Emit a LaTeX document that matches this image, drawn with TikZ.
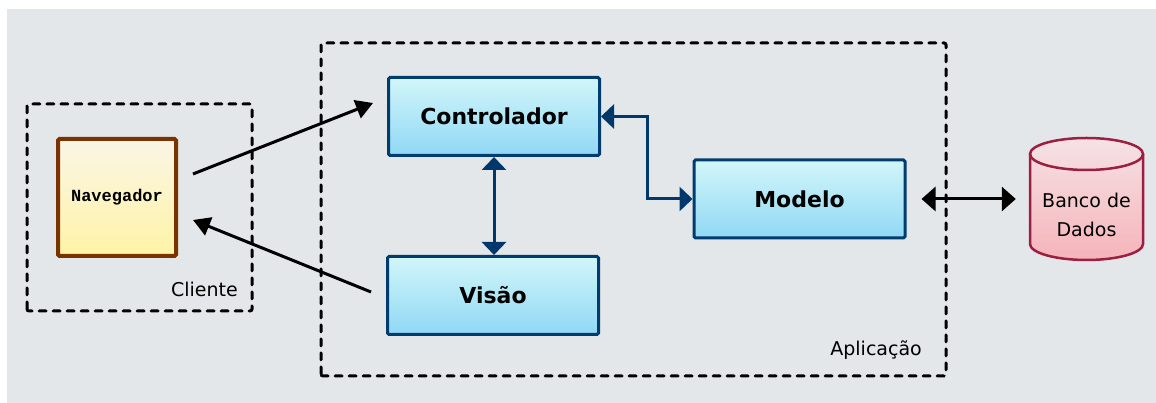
\documentclass[tikz,border=0pt]{standalone}
\usepackage{fontspec}
\setmainfont{DejaVu Sans}
\newfontfamily\monofnt{Liberation Mono}
\usetikzlibrary{arrows.meta,calc}
\definecolor{bg}{HTML}{E4E7EA}
\definecolor{boxblue}{HTML}{003C6E}
\definecolor{linkblue}{HTML}{00386B}
\definecolor{bluetop}{HTML}{D2F6F9}
\definecolor{bluebot}{HTML}{90D8F5}
\definecolor{navtop}{HTML}{FAF5E6}
\definecolor{navbot}{HTML}{FFF4A6}
\definecolor{navborder}{HTML}{7A3300}
\definecolor{dbtop}{HTML}{F5E2E5}
\definecolor{dbbot}{HTML}{F5B4BA}
\definecolor{dbborder}{HTML}{9C1F41}
\begin{document}
\begin{tikzpicture}[x=1pt,y=1pt,
  bluebox/.style={draw=boxblue, line width=3pt, rounded corners=1.5pt,
    top color=bluetop, bottom color=bluebot, minimum width=211pt,
    minimum height=78pt, inner sep=0pt,
    font=\fontsize{22}{26}\selectfont\bfseries},
  navbox/.style={draw=navborder, line width=4pt, rounded corners=1.5pt,
    top color=navtop, bottom color=navbot, minimum width=118pt,
    minimum height=117pt, inner sep=0pt,
    font=\monofnt\fontsize{17}{20}\selectfont\bfseries},
  groupbox/.style={draw=black, line width=3pt, dash pattern=on 7pt off 7pt,
    line cap=round, rounded corners=2pt},
  grouplabel/.style={font=\fontsize{19}{22}\selectfont, inner sep=0pt, anchor=east},
  blacklink/.style={draw=black, line width=3pt,
    -{Triangle[length=17pt,width=19pt]}},
  bluelink/.style={draw=linkblue, line width=3pt,
    {Triangle[length=13pt,width=24pt]}-{Triangle[length=13pt,width=24pt]}},
  dblink/.style={draw=black, line width=3pt,
    {Triangle[length=14pt,width=24pt]}-{Triangle[length=14pt,width=24pt]}}
]
\useasboundingbox (0,0) rectangle (1156,403);
\fill[bg] (7,0) rectangle (1156,394);

% group boxes
\draw[groupbox] (27,92) rectangle (252,299);
\draw[groupbox] (321,27) rectangle (946,360);
\node[grouplabel] (cliente) at (238,114) {Cliente};
\node[grouplabel] (aplicacao) at (922,53) {Aplicação};

% nodes
\node[navbox] (nav) at (117,205.5) {Navegador};
\node[bluebox] (ctrl) at (494,286.5) {Controlador};
\node[bluebox] (visao) at (493,107.5) {Visão};
\node[bluebox] (modelo) at (799.5,204) {Modelo};

% database cylinder
\path[top color=dbtop, bottom color=dbbot]
  (1030,249) -- (1030,159) arc[start angle=180, end angle=360, x radius=56.5pt, y radius=16pt]
  -- (1143,249) arc[start angle=0, end angle=180, x radius=56.5pt, y radius=16pt] -- cycle;
\draw[dbborder, line width=2.5pt]
  (1030,249) -- (1030,159) arc[start angle=180, end angle=360, x radius=56.5pt, y radius=16pt]
  -- (1143,249);
\draw[dbborder, line width=2.5pt] (1086.5,249) ellipse [x radius=56.5pt, y radius=16pt];
\node[minimum width=113pt, minimum height=122pt, inner sep=0pt] (db) at (1086.5,204) {};
\node[align=center, inner sep=0pt, font=\fontsize{19}{29}\selectfont] (dbtxt) at (1086.5,188.5) {Banco de\\Dados};

% connectors
\draw[blacklink] ($(nav.east)+(15,23.5)$) -- ($(ctrl.west)+(-14,13.5)$);
\draw[blacklink] ($(visao.west)+(-15,3.5)$) -- ($(nav.east)+(15,-22.5)$);
\draw[bluelink] (ctrl.south) -- (ctrl.south |- visao.north);
\coordinate (bend) at ($(ctrl.east)+(46,0)$);
\draw[bluelink] (ctrl.east) -- (bend) |- (modelo.west);
\draw[dblink, shorten <=15pt, shorten >=14pt] (modelo.east) -- (db.west);
\end{tikzpicture}
\end{document}
